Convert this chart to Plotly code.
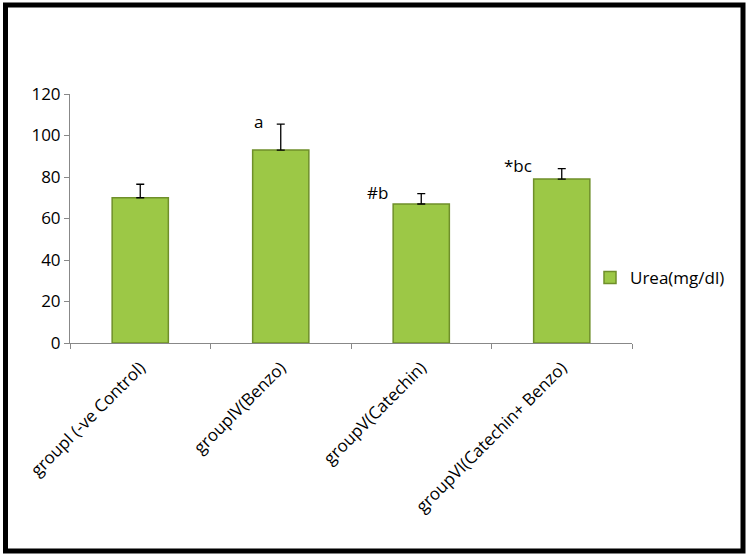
import plotly.graph_objects as go

categories = ["groupI (-ve Control)", "groupIV(Benzo)", "groupV(Catechin)", "groupVI(Catechin+ Benzo)"]
urea = [70, 93, 67, 79]
urea_err = [6.5, 12.5, 5, 5]
sig_labels = ["", "a", "#b", "*bc"]
series_name = "Urea(mg/dl)"

# plot area geometry in pixels (for paper-coordinate conversions)
L, R, T, B = 70, 632, 94, 343
def px_x(px):
    return (px - L) / (R - L)
def px_y(py):
    return (B - py) / (B - T)

fig = go.Figure()
fig.add_trace(go.Bar(
    x=categories, y=urea, name=series_name, width=0.4,
    marker=dict(color="#9CC846", line=dict(color="#6F8F2A", width=1.5)),
    error_y=dict(type="data", array=urea_err, arrayminus=[0]*4, symmetric=False,
                 color="black", thickness=1.3, width=4),
    showlegend=True,
))

offsets = {"a": (-0.16, 3), "#b": (-0.31, 1), "*bc": (-0.31, 3)}
for c, v, e, lab in zip(categories, urea, urea_err, sig_labels):
    if not lab:
        continue
    dx, dy = offsets[lab]
    fig.add_annotation(x=c, y=v + e, text=lab, showarrow=False, xshift=dx * 140.5, yshift=dy,
                       font=dict(size=17, color="black", family="Open Sans"))

fig.add_shape(type="rect", xref="paper", yref="paper",
              x0=px_x(5.5), x1=px_x(743), y0=px_y(551), y1=px_y(5),
              line=dict(color="black", width=5), fillcolor="rgba(0,0,0,0)", layer="above")

fig.update_layout(
    width=750, height=556,
    margin=dict(l=L, r=750 - R, t=T, b=556 - B),
    paper_bgcolor="white", plot_bgcolor="white",
    font=dict(family="Open Sans", size=17, color="black"),
    legend=dict(x=px_x(590), y=px_y(278), xanchor="left", yanchor="middle",
                font=dict(size=17, family="Open Sans"), bgcolor="rgba(0,0,0,0)",
                itemwidth=30),
    bargap=0.6,
)
fig.update_xaxes(showline=True, linecolor="#888888", linewidth=1, ticks="outside",
                 tickson="boundaries", ticklen=5, tickcolor="#888888", tickangle=-45,
                 showgrid=False, tickfont=dict(size=17), ticklabelstandoff=7)
fig.update_yaxes(range=[0, 120], dtick=20, showline=True, linecolor="#888888", linewidth=1,
                 ticks="outside", ticklen=5, tickcolor="#888888", showgrid=False,
                 zeroline=False, tickfont=dict(size=17))

fig.write_html("out.html", config={"displayModeBar": False},
               post_script="document.body.style.margin='0px';")
